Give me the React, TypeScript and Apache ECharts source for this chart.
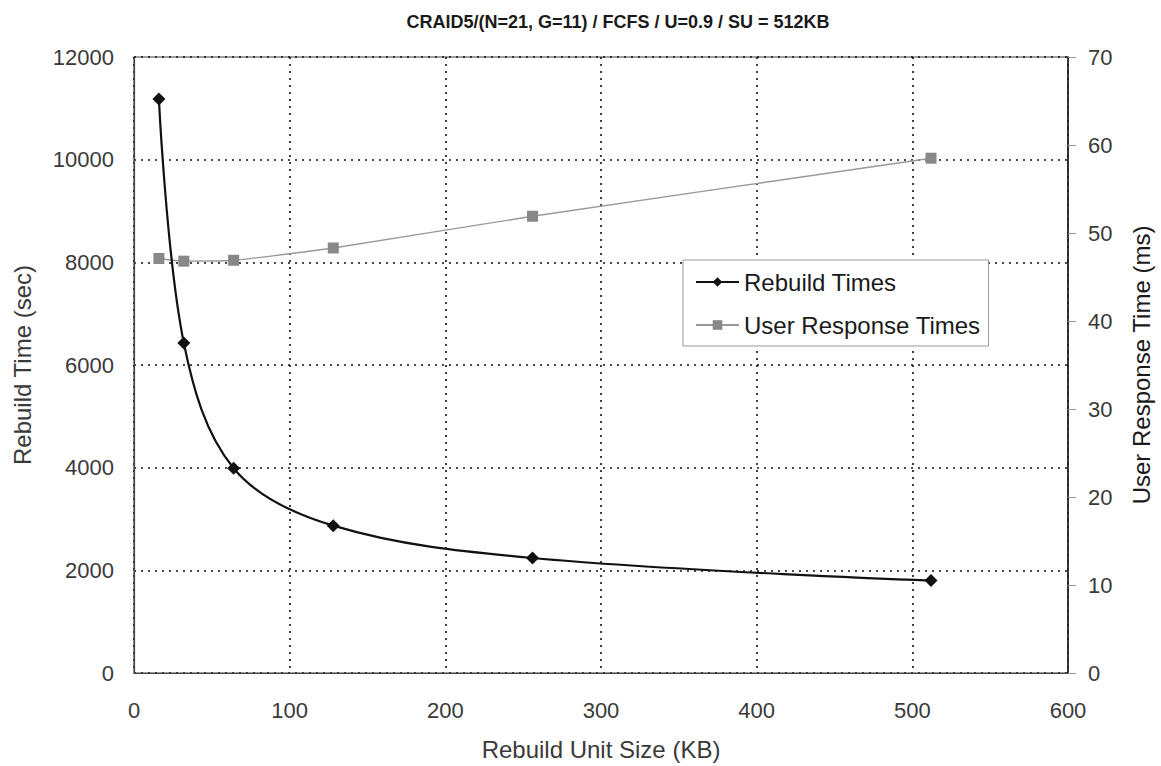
import React, { useEffect, useRef } from "react";
import * as echarts from "echarts";

const titleText = "CRAID5/(N=21, G=11) / FCFS / U=0.9 / SU = 512KB";
const unitSizes = [16, 32, 64, 128, 256, 512];
const rebuildTimes = [11180, 6430, 3990, 2870, 2240, 1800];
const responseTimes = [47.1, 46.8, 46.9, 48.3, 51.9, 58.5];
const seriesNames = ["Rebuild Times", "User Response Times"];

export default function App() {
  const ref = useRef<HTMLDivElement>(null);
  useEffect(() => {
    if (!ref.current) return;
    const chart = echarts.init(ref.current, null, { renderer: "svg" });
    const font = "'Liberation Sans', Arial, sans-serif";
    const labelStyle = { color: "#3a3a3a", fontSize: 22, fontFamily: font };
    const gridDots = { color: "#111", type: [2, 5], width: 1.6 };
    chart.setOption({
      animation: false,
      backgroundColor: "#fff",
      title: {
        text: titleText,
        top: 8,
        left: 613,
        textAlign: "center",
        textStyle: { fontSize: 18, fontWeight: "bold", color: "#1a1a1a", fontFamily: font },
      },
      grid: {
        left: 134,
        right: 88,
        top: 57,
        bottom: 90,
        show: true,
        borderColor: "#444",
        borderWidth: 1.2,
        backgroundColor: "transparent",
      },
      legend: {
        orient: "vertical",
        left: 683,
        top: 260,
        backgroundColor: "#fff",
        borderColor: "#999",
        borderWidth: 1,
        borderRadius: 0,
        padding: [10, 8, 9, 12],
        itemGap: 19,
        itemWidth: 43,
        itemHeight: 12,
        textStyle: { color: "#1a1a1a", fontSize: 24, fontFamily: font },
        data: seriesNames,
      },
      xAxis: {
        type: "value",
        min: 0,
        max: 600,
        interval: 100,
        name: "Rebuild Unit Size (KB)",
        nameLocation: "middle",
        nameGap: 64,
        nameTextStyle: { color: "#3a3a3a", fontSize: 24, fontFamily: font },
        axisLine: { show: true, lineStyle: { color: "#444", width: 1.2 } },
        axisTick: { show: false },
        axisLabel: { ...labelStyle, margin: 26 },
        splitLine: { show: true, lineStyle: gridDots },
      },
      yAxis: [
        {
          type: "value",
          min: 0,
          max: 12000,
          interval: 2000,
          position: "left",
          name: "Rebuild Time (sec)",
          nameLocation: "middle",
          nameGap: 100,
          nameTextStyle: { color: "#3a3a3a", fontSize: 24, fontFamily: font },
          axisLine: { show: true, lineStyle: { color: "#444", width: 1.2 } },
          axisTick: { show: false },
          axisLabel: { ...labelStyle, margin: 20, formatter: (v: number) => String(v) },
          splitLine: { show: true, lineStyle: gridDots },
        },
        {
          type: "value",
          min: 0,
          max: 70,
          interval: 10,
          position: "right",
          name: "User Response Time (ms)",
          nameLocation: "middle",
          nameGap: 61,
          nameTextStyle: { color: "#1a1a1a", fontSize: 24, fontFamily: font },
          axisLine: { show: true, lineStyle: { color: "#222", width: 1.6 } },
          axisTick: { show: true, inside: false, length: 8, lineStyle: { color: "#999" } },
          axisLabel: { ...labelStyle, margin: 20 },
          splitLine: { show: false },
        },
      ],
      series: [
        {
          name: seriesNames[0],
          type: "line",
          yAxisIndex: 0,
          data: unitSizes.map((x, i) => [x, rebuildTimes[i]]),
          smooth: 0.35,
          symbol: "diamond",
          symbolSize: 13,
          itemStyle: { color: "#111" },
          lineStyle: { color: "#111", width: 2.2 },
          z: 3,
        },
        {
          name: seriesNames[1],
          type: "line",
          yAxisIndex: 1,
          data: unitSizes.map((x, i) => [x, responseTimes[i]]),
          smooth: 0.2,
          symbol: "rect",
          symbolSize: 11,
          itemStyle: { color: "#888" },
          lineStyle: { color: "#999", width: 1.4 },
          z: 2,
        },
      ],
    });
    return () => chart.dispose();
  }, []);
  return <div ref={ref} style={{ width: 1161, height: 766, position: "absolute", left: 0, top: 0 }} />;
}
